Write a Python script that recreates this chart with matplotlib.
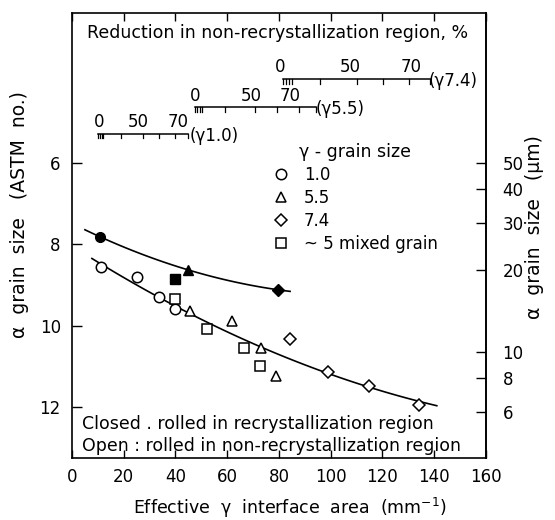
import numpy as np
import matplotlib
matplotlib.use("Agg")
import matplotlib.pyplot as plt

plt.rcParams['font.family'] = ['DejaVu Sans']

# open symbols: rolled in non-recrystallization region (x: mm^-1, y: ASTM no.)
g10_x = [11.2, 25.1, 33.6, 39.8]
g10_g = [8.56, 8.80, 9.29, 9.59]
g55_x = [45.6, 61.8, 73.0, 78.8]
g55_g = [9.63, 9.88, 10.54, 11.23]
g74_x = [84.3, 98.9, 114.8, 134.1]
g74_g = [10.34, 11.15, 11.47, 11.94]
mix_x = [39.8, 52.2, 66.5, 72.7]
mix_g = [9.34, 10.08, 10.54, 11.00]

# closed symbols: rolled in recrystallization region
closed_x = [10.8, 44.8, 39.8, 79.6]
closed_g = [7.82, 8.63, 8.85, 9.12]
closed_marks = ["o", "^", "s", "D"]

# points
closed_curve_x = [5.0, 10.8, 44.8, 59.9, 79.6, 84.3]
closed_curve_g = [7.65, 7.82, 8.60, 8.92, 9.12, 9.15]
open_curve_x = [7.7, 49.5, 72.7, 98.6, 141.0]
open_curve_g = [8.36, 9.78, 10.59, 11.13, 11.97]

x_ticks = [0, 20, 40, 60, 80, 100, 120, 140, 160]
astm_ticks = [6, 8, 10, 12]
um_ticks = [50, 40, 30, 20, 10, 8, 6]
legend_labels = ["1.0", "5.5", "7.4", "~ 5 mixed grain"]
scale_labels = ["0", "50", "70"]


def astm_to_um(g):
    return 50.0 * 2.0 ** (-(np.asarray(g, dtype=float) - 6.0) / 2.0)


def um_to_astm(d):
    d = np.clip(np.asarray(d, dtype=float), 1e-6, None)
    return 6.0 + 2.0 * np.log2(50.0 / d)


fig = plt.figure(figsize=(5.55, 5.2), dpi=100)
ax = fig.add_axes([0.1297, 0.1192, 0.7459, 0.8563])

# trend curves
cx = np.linspace(min(closed_curve_x), max(closed_curve_x), 100)
ax.plot(cx, np.polyval(np.polyfit(closed_curve_x, closed_curve_g, 2), cx),
        color="black", lw=1.2, zorder=2)
ox = np.linspace(min(open_curve_x), max(open_curve_x), 100)
ax.plot(ox, np.polyval(np.polyfit(open_curve_x, open_curve_g, 2), ox),
        color="black", lw=1.2, zorder=2)

mk = dict(ls="none", mfc="white", mec="black", mew=1.1, zorder=3)
h1, = ax.plot(g10_x, g10_g, marker="o", ms=7.5, **mk)
h2, = ax.plot(g55_x, g55_g, marker="^", ms=7, **mk)
h3, = ax.plot(g74_x, g74_g, marker="D", ms=6.5, **mk)
h4, = ax.plot(mix_x, mix_g, marker="s", ms=6.5, **mk)

for x, g, m in zip(closed_x, closed_g, closed_marks):
    ax.plot(x, g, marker=m, ms=7 if m != "D" else 6, color="black", ls="none", zorder=3)

ax.set_xlim(0, 160)
ax.set_ylim(13.25, 2.32)
ax.set_xticks(x_ticks)
ax.set_yticks(astm_ticks)
ax.tick_params(axis="x", direction="in", top=True, length=6, width=1, labelsize=12, pad=7)
ax.tick_params(axis="y", direction="in", left=True, right=False, length=7, width=1,
               labelsize=12, pad=8)
for s in ax.spines.values():
    s.set_linewidth(1.2)

sec = ax.secondary_yaxis("right", functions=(astm_to_um, um_to_astm))
sec.set_yticks(um_ticks)
sec.set_yticklabels([str(t) for t in um_ticks])
sec.tick_params(direction="in", length=7, width=1, labelsize=12, pad=12)
sec.spines["right"].set_linewidth(1.2)

# reduction scale bars
bars = [
    (0.063, 0.280, 0.728, [0.065, 0.160, 0.256], 0.754, "(γ1.0)", 0.283),
    (0.297, 0.589, 0.788, [0.297, 0.433, 0.527], 0.813, "(γ5.5)", 0.589),
    (0.510, 0.865, 0.851, [0.502, 0.671, 0.819], 0.878, "(γ7.4)", 0.862),
]
for x0, x1, yb, lx, ly, tag, tx in bars:
    ax.plot([x0, x1], [yb, yb], transform=ax.transAxes, color="black", lw=1.1)
    for f in [0.0, 0.02, 0.04, 0.06, 0.25, 0.5, 0.68, 0.86, 1.0]:
        xt = x0 + f * (x1 - x0)
        ax.plot([xt, xt], [yb, yb - 0.01], transform=ax.transAxes, color="black", lw=0.9)
    for lab, xl in zip(scale_labels, lx):
        ax.text(xl, ly, lab, transform=ax.transAxes, ha="center", va="center", fontsize=12)
    ax.text(tx, yb - 0.004, tag, transform=ax.transAxes, ha="left", va="center", fontsize=12)

ax.text(0.036, 0.954, "Reduction in non-recrystallization region, %", transform=ax.transAxes,
        ha="left", va="center", fontsize=12.5)

leg = ax.legend([h1, h2, h3, h4], legend_labels, title="γ - grain size", loc="upper left",
                bbox_to_anchor=(0.468, 0.722), frameon=False, fontsize=12, title_fontsize=12.5,
                handlelength=1.0, handletextpad=0.9, labelspacing=0.3, borderaxespad=0)

ax.text(0.024, 0.077, "Closed . rolled in recrystallization region", transform=ax.transAxes,
        ha="left", va="center", fontsize=12.5)
ax.text(0.024, 0.028, "Open : rolled in non-recrystallization region", transform=ax.transAxes,
        ha="left", va="center", fontsize=12.5)

fig.text(290 / 555, 1 - 508 / 520, "Effective  γ  interface  area  (mm$^{-1}$)", ha="center",
         va="center", fontsize=12.5)
fig.text(20 / 555, 1 - 215 / 520, "α  grain  size   (ASTM  no.)", rotation=90, ha="center",
         va="center", fontsize=13.5)
fig.text(535 / 555, 1 - 227 / 520, "α  grain  size   (μm)", rotation=90, ha="center",
         va="center", fontsize=13.5)

fig.savefig("out.png", dpi=100)
